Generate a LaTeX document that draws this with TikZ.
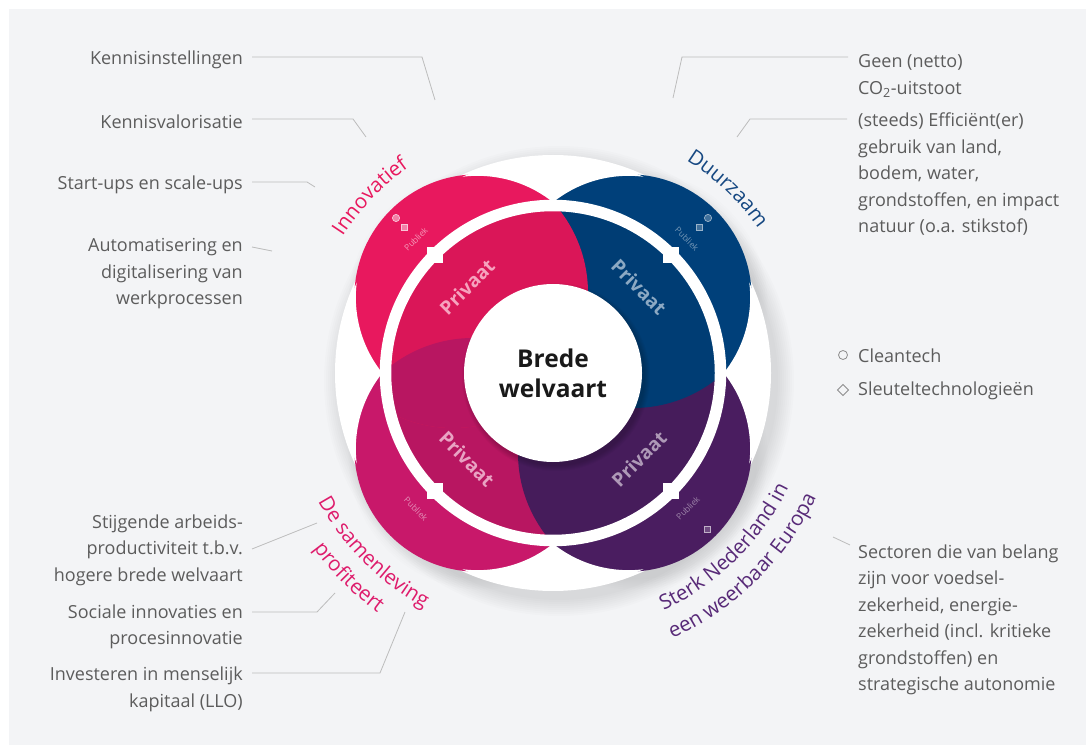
\documentclass[tikz,border=0pt]{standalone}
\usepackage{fontspec}
\setmainfont{Open Sans}
\usetikzlibrary{decorations.text}
\definecolor{bgC}{RGB}{243,244,246}
\definecolor{pinkC}{RGB}{232,24,94}
\definecolor{navyC}{RGB}{0,64,122}
\definecolor{magC}{RGB}{200,24,106}
\definecolor{purC}{RGB}{74,29,96}
\definecolor{txtC}{RGB}{92,92,92}
\definecolor{lineC}{RGB}{188,188,188}
\definecolor{lblPink}{RGB}{232,24,94}
\definecolor{lblNavy}{RGB}{22,72,130}
\definecolor{lblMag}{RGB}{222,28,108}
\definecolor{lblPur}{RGB}{88,42,120}
\newcommand{\gtxt}{\fontsize{18}{26.5}\selectfont}
\newcommand{\arcfont}{\fontsize{20.5}{24}\selectfont}
\begin{document}
\begin{tikzpicture}[x=1pt,y=1pt,
  lbl/.style={font=\gtxt, text=txtC, inner sep=0pt, align=right, anchor=east},
  lblr/.style={font=\gtxt, text=txtC, inner sep=0pt, align=left, anchor=west},
  leader/.style={draw=lineC, line width=0.8pt},
  privaat/.style={font=\fontsize{19}{22}\selectfont\bfseries, inner sep=0pt},
  publiek/.style={font=\fontsize{8.5}{9}\selectfont, inner sep=0pt},
  arclabel/.style={decorate, decoration={text along path, text align=center, text={#1}}}
]
\useasboundingbox (0,0) rectangle (1086,745);
\fill[white] (0,0) rectangle (1086,745);
\fill[bgC] (9,0) rectangle (1086,736);

% ---------- central diagram ----------
\begin{scope}[shift={(553,372)}]
  % soft shadow
  \foreach \r in {219,221,...,235} {
    \fill[black,opacity=0.011] (6,-8) circle[radius=\r pt];
  }
  \foreach \a in {45,135,225,315} {
    \foreach \r in {124,126,...,134} {
      \fill[black,opacity=0.008] ([shift={(5,-7)}]\a:107pt) circle[radius=\r pt];
    }
  }
  \fill[white] (0,0) circle[radius=218pt];
  % outer petals (Publiek), separated by white seams inside the disc
  \foreach \a/\c in {135/pinkC,45/navyC,225/magC,315/purC} {
    \fill[\c] (\a:107pt) circle[radius=123pt];
    \begin{scope}
      \clip (0,0) circle[radius=216pt];
      \draw[white, line width=3pt] (\a:107pt) circle[radius=123pt];
    \end{scope}
  }
  % inner pinwheel (Privaat)
  \begin{scope}
    \clip (0,0) circle[radius=166pt];
    \fill[magC!92!black] (-80,-100) circle[radius=135pt];
    \fill[purC!95!black] (100,-80) circle[radius=135pt];
    \fill[navyC!95!black] (80,100) circle[radius=135pt];
    \fill[pinkC!94!black] (-100,80) circle[radius=135pt];
    \begin{scope}
      \clip (-100,80) circle[radius=135pt];
      \fill[magC!92!black] (-80,-100) circle[radius=135pt];
    \end{scope}
  \end{scope}
  % white ring with notches
  \draw[white, line width=11.5pt] (0,0) circle[radius=167.5pt];
  \foreach \a in {45,135,225,315} {
    \fill[white] (\a:167.5pt) ++(-8,-8) rectangle ++(16,16);
  }
  % centre circle
  \foreach \r in {89,90,...,94} {
    \fill[black,opacity=0.03] (3,-4) circle[radius=\r pt];
  }
  \fill[white] (0,0) circle[radius=89pt];
  \node[font=\fontsize{24.5}{30}\selectfont\bfseries, align=center, text=black!90, inner sep=0pt] (bw) at (0,0) {Brede\\welvaart};
  % Privaat labels
  \node[privaat, text=white!60!pinkC, rotate=45] (p1) at (-86,86) {Privaat};
  \node[privaat, text=white!55!navyC, rotate=-45] (p2) at (86,86) {Privaat};
  \node[privaat, text=white!60!magC, rotate=-45] (p3) at (-86,-86) {Privaat};
  \node[privaat, text=white!55!purC, rotate=45] (p4) at (86,-86) {Privaat};
  % Publiek labels
  \node[publiek, text=white!55!pinkC, rotate=45] (q1) at (-137,134) {Publiek};
  \node[publiek, text=white!45!navyC, rotate=-45] (q2) at (134,134) {Publiek};
  \node[publiek, text=white!50!magC, rotate=-45] (q3) at (-137,-136) {Publiek};
  \node[publiek, text=white!45!purC, rotate=45] (q4) at (135,-135) {Publiek};
  % icons
  \fill[white!45!pinkC, draw=white!75!pinkC, line width=0.7pt] (-157,155) circle[radius=3.6pt];
  \fill[white!45!pinkC, draw=white!75!pinkC, line width=0.7pt] (-152,143) rectangle ++(6,6);
  \fill[white!25!navyC, draw=white!60!navyC, line width=0.7pt] (143,143) rectangle ++(6,6);
  \fill[white!25!navyC, draw=white!60!navyC, line width=0.7pt] (155,155) circle[radius=3.6pt];
  \fill[white!20!purC, draw=white!65!purC, line width=0.7pt] (151,-159) rectangle ++(6,6);
  % curved labels
  \path[arclabel={|\arcfont\color{lblPink}|Innovatief}] (166:251pt) arc[start angle=166, end angle=106, radius=251pt];
  \path[arclabel={|\arcfont\color{lblNavy}|Duurzaam}] (76.5:251pt) arc[start angle=76.5, end angle=16.5, radius=251pt];
  \path[arclabel={|\arcfont\color{lblMag}|De samenleving}] (190:268pt) arc[start angle=190, end angle=260, radius=268pt];
  \path[arclabel={|\arcfont\color{lblMag}|profiteert}] (190:297pt) arc[start angle=190, end angle=260, radius=297pt];
  \path[arclabel={|\arcfont\color{lblPur}|Sterk Nederland in}] (279.5:262pt) arc[start angle=279.5, end angle=349.5, radius=262pt];
  \path[arclabel={|\arcfont\color{lblPur}|een weerbaar Europa}] (279.5:291pt) arc[start angle=279.5, end angle=349.5, radius=291pt];
\end{scope}

% ---------- side texts ----------
\node[lbl] (t1) at (243,685) {Kennisinstellingen};
\node[lbl] (t2) at (243,623) {Kennisvalorisatie};
\node[lbl] (t3) at (243,560) {Start-ups en scale-ups};
\node[lbl] (t4) at (243,471) {Automatisering en\\digitalisering van\\werkprocessen};
\node[lbl] (t5) at (243,195) {Stijgende arbeids-\\productiviteit t.b.v.\\hogere brede welvaart};
\node[lbl] (t6) at (243,118) {Sociale innovaties en\\procesinnovatie};
\node[lbl] (t7) at (243,55.5) {Investeren in menselijk\\kapitaal (LLO)};
\node[lblr] (r1) at (858,669) {Geen (netto)\\CO\textsubscript{2}-uitstoot};
\node[lblr] (r2) at (858,570.5) {(steeds) Efficiënt(er)\\gebruik van land,\\bodem, water,\\grondstoffen, en impact\\natuur (o.a. stikstof)};
\node[lblr] (r3) at (858,125) {Sectoren die van belang\\zijn voor voedsel-\\zekerheid, energie-\\zekerheid (incl. kritieke\\grondstoffen) en\\strategische autonomie};
\node[lblr] (c1) at (858,389) {Cleantech};
\node[lblr] (c2) at (858,354) {Sleuteltechnologieën};
\draw[txtC!70, line width=0.8pt] (843,390) circle[radius=4.5pt];
\draw[txtC!70, line width=0.8pt] (843,360.5) -- (848.5,355) -- (843,349.5) -- (837.5,355) -- cycle;

% ---------- leader lines ----------
\coordinate (a1) at (252,688); \coordinate (b1) at (422,688); \coordinate (e1) at (435,645);
\coordinate (a2) at (252,626); \coordinate (b2) at (353,626); \coordinate (e2) at (366,608);
\coordinate (a3) at (252,563); \coordinate (b3) at (307,563); \coordinate (e3) at (315,558);
\coordinate (a4) at (252,498); \coordinate (e4) at (272,494);
\coordinate (a5) at (848,688); \coordinate (b5) at (682,688); \coordinate (e5) at (673,647);
\coordinate (a6) at (847,626); \coordinate (b6) at (750,626); \coordinate (e6) at (737,608);
\coordinate (a7) at (252,196); \coordinate (e7) at (317,222);
\coordinate (a8) at (252,133); \coordinate (b8) at (317,133); \coordinate (e8) at (335,152);
\coordinate (a9) at (252,72); \coordinate (b9) at (380,72); \coordinate (e9) at (405,133);
\coordinate (a10) at (850,200); \coordinate (e10) at (833,208);
\draw[leader] (a1) -- (b1) -- (e1);
\draw[leader] (a2) -- (b2) -- (e2);
\draw[leader] (a3) -- (b3) -- (e3);
\draw[leader] (a4) -- (e4);
\draw[leader] (a5) -- (b5) -- (e5);
\draw[leader] (a6) -- (b6) -- (e6);
\draw[leader] (a7) -- (e7);
\draw[leader] (a8) -- (b8) -- (e8);
\draw[leader] (a9) -- (b9) -- (e9);
\draw[leader] (a10) -- (e10);
\end{tikzpicture}
\end{document}
